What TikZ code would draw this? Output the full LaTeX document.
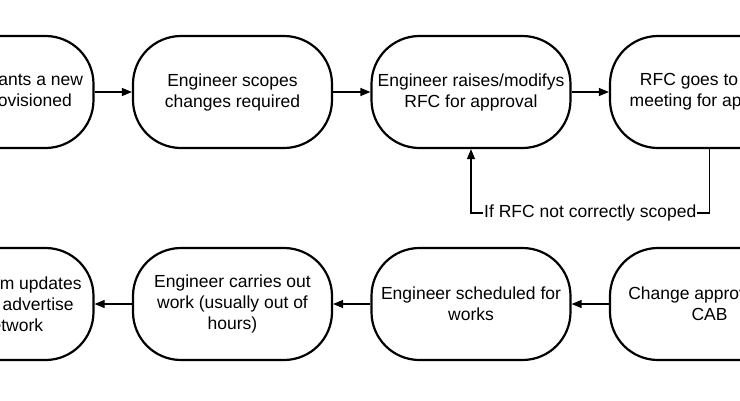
\documentclass[tikz,border=0pt]{standalone}
\usepackage{fontspec}
\setmainfont{Liberation Sans}
\usetikzlibrary{arrows.meta}
\tikzset{
  stepbox/.style={draw=black, line width=2.2pt, rectangle, rounded corners=48pt,
    minimum width=199pt, minimum height=112pt, inner sep=0pt, align=center,
    font=\fontsize{17.5}{21}\selectfont},
  flow/.style={line width=1.2pt, -{Triangle[length=10pt,width=8pt]}},
  lbl/.style={fill=white, inner sep=1pt, font=\fontsize{17.5}{21}\selectfont}
}
\begin{document}
\begin{tikzpicture}[x=1pt,y=-1pt]
\useasboundingbox (0,0) rectangle (740,400);
\clip (0,0) rectangle (740,400);
\node[stepbox] (n1) at (-6,92) {Customer wants a new\\network provisioned};
\node[stepbox] (n2) at (232.5,92) {Engineer scopes\\changes required};
\node[stepbox] (n3) at (471,92) {Engineer raises/modifys\\RFC for approval};
\node[stepbox] (n4) at (709.5,92) {RFC goes to CAB\\meeting for approval};
\node[stepbox] (m4) at (709.5,304) {Change approved by\\CAB};
\node[stepbox] (m3) at (471,304) {Engineer scheduled for\\works};
\node[stepbox] (m2) at (232.5,304) {Engineer carries out\\work (usually out of\\hours)};
\node[stepbox] (m1) at (-6,304) {Network team updates\\systems to advertise\\new network};
\draw[flow] (n1) -- (n2);
\draw[flow] (n2) -- (n3);
\draw[flow] (n3) -- (n4);
\draw[flow] (m4) -- (m3);
\draw[flow] (m3) -- (m2);
\draw[flow] (m2) -- (m1);
\coordinate (c1) at (709.5,213);
\coordinate (c2) at (471,213);
\draw[flow] (n4.south) -- (c1) -- node[lbl] {If RFC not correctly scoped} (c2) -- (n3.south);
\end{tikzpicture}
\end{document}
